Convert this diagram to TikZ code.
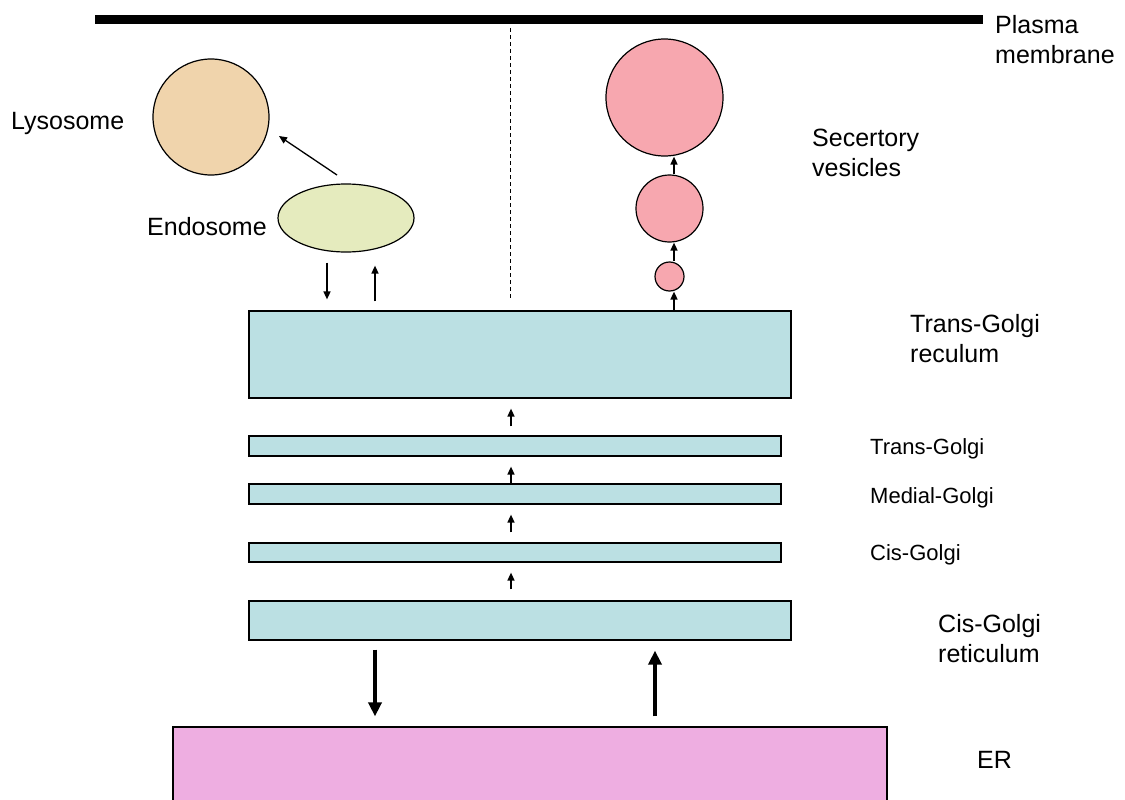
\documentclass[tikz,border=0pt]{standalone}
\usepackage{fontspec}
\setmainfont{Liberation Sans}
\usetikzlibrary{arrows.meta,shapes.geometric}
\definecolor{lysoc}{RGB}{240,212,172}
\definecolor{endoc}{RGB}{229,235,190}
\definecolor{vesc}{RGB}{247,167,175}
\definecolor{golgic}{RGB}{187,224,227}
\definecolor{erc}{RGB}{238,174,225}
\begin{document}
\begin{tikzpicture}[x=1pt,y=-1pt,
  biglabel/.style={font=\fontsize{25}{30}\selectfont, inner sep=0pt, align=left, anchor=north west},
  onelabel/.style={font=\fontsize{25}{30}\selectfont, inner sep=0pt, anchor=base west},
  smalllabel/.style={font=\fontsize{22}{26}\selectfont, inner sep=0pt, anchor=base west},
  organ/.style={draw=black, line width=1.2pt, inner sep=0pt},
  golgibox/.style={organ, rectangle, fill=golgic},
  vesicle/.style={organ, circle, fill=vesc},
  arr/.style={line width=1.5pt, -{Triangle[length=8pt,width=7pt]}},
  thickarr/.style={line width=4pt, -{Triangle[length=14pt,width=13pt]}}]
\useasboundingbox (0,0) rectangle (1125,800);

% plasma membrane
\coordinate (m1) at (95,20);
\coordinate (m2) at (983,20);
\draw[line width=9pt] (m1) -- (m2);
\node[biglabel] (pm) at (995,15) {Plasma\\membrane};

% dashed divider
\coordinate (d1) at (510,28);
\coordinate (d2) at (510,300);
\draw[line width=1pt, dash pattern=on 4pt off 3pt] (d1) -- (d2);

% lysosome and endosome
\node[organ, circle, fill=lysoc, minimum size=116pt] (lyso) at (211,117) {};
\node[onelabel] (lysolab) at (11,129) {Lysosome};
\node[organ, ellipse, fill=endoc, minimum width=136pt, minimum height=68pt] (endo) at (346,218) {};
\node[onelabel] (endolab) at (147,235) {Endosome};
\coordinate (la) at (337,175);
\coordinate (lb) at (279,136);
\draw[line width=1.3pt, -{Triangle[length=8pt,width=7pt]}] (la) -- (lb);

% secretory vesicles
\node[vesicle, minimum size=117pt] (vbig) at (664.5,97.5) {};
\node[vesicle, minimum size=67pt] (vmed) at (669.5,208.5) {};
\node[vesicle, minimum size=29pt] (vsml) at (669.5,276.5) {};
\node[biglabel] (seclab) at (812,129) {Secertory\\vesicles};

% golgi stack
\node[golgibox, minimum width=542pt, minimum height=87pt] (tgr) at (520,354.5) {};
\node[golgibox, minimum width=532pt, minimum height=20pt] (tg) at (515,446) {};
\node[golgibox, minimum width=532pt, minimum height=20pt] (mg) at (515,494) {};
\node[golgibox, minimum width=532pt, minimum height=19pt] (cg) at (515,552.5) {};
\node[golgibox, minimum width=542pt, minimum height=39pt] (cgr) at (520,620.5) {};
\node[organ, rectangle, fill=erc, minimum width=714pt, minimum height=83pt] (er) at (530,768.5) {};

\node[biglabel] (tgrlab) at (910,314) {Trans-Golgi\\reculum};
\node[smalllabel] (tglab) at (870,454) {Trans-Golgi};
\node[smalllabel] (mglab) at (870,503) {Medial-Golgi};
\node[smalllabel] (cglab) at (870,560) {Cis-Golgi};
\node[biglabel] (cgrlab) at (938,614) {Cis-Golgi\\reticulum};
\node[onelabel] (erlab) at (977,768) {ER};

% arrows on the vesicle column
\coordinate (vx) at (674,0);
\draw[arr] (tgr.north -| vx) -- (vsml.south -| vx);
\draw[arr] (vsml.north -| vx) -- (vmed.south -| vx);
\draw[arr] (vmed.north -| vx) -- (vbig.south -| vx);

% endosome <-> trans-golgi reculum
\coordinate (ex1) at (327,0);
\coordinate (ex2) at (375,0);
\draw[arr, shorten <=10pt, shorten >=11pt] (endo.south -| ex1) -- (tgr.north -| ex1);
\draw[arr, shorten <=9pt, shorten >=13pt] (tgr.north -| ex2) -- (endo.south -| ex2);

% central arrows through the stack
\coordinate (cx) at (511,0);
\draw[arr, shorten <=9pt, shorten >=10pt] (tg.north -| cx) -- (tgr.south -| cx);
\draw[arr, shorten >=10pt] (mg.north -| cx) -- (tg.south -| cx);
\draw[arr, shorten <=10pt, shorten >=10pt] (cg.north -| cx) -- (mg.south -| cx);
\draw[arr, shorten <=11pt, shorten >=10pt] (cgr.north -| cx) -- (cg.south -| cx);

% ER <-> cis-golgi reticulum
\coordinate (tx1) at (375,0);
\coordinate (tx2) at (655,0);
\draw[thickarr, shorten <=9pt, shorten >=10pt] (cgr.south -| tx1) -- (er.north -| tx1);
\draw[thickarr, shorten <=10pt, shorten >=10pt] (er.north -| tx2) -- (cgr.south -| tx2);
\end{tikzpicture}
\end{document}
